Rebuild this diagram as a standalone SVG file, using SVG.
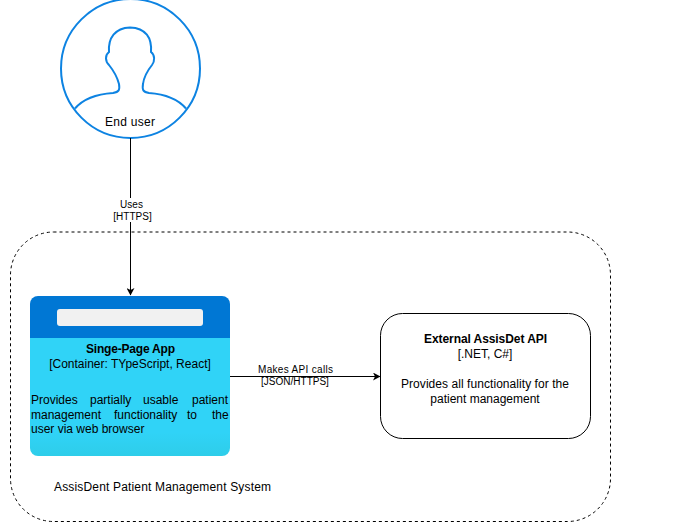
<svg xmlns="http://www.w3.org/2000/svg" width="673" height="529" viewBox="0 0 673 529">
<defs>
<style>
text{font-family:"Liberation Sans",Arial,sans-serif;font-size:12px;fill:#000}
.s{font-size:10px}
.m{text-anchor:middle}
.b{font-weight:bold}
.c{fill:none;stroke:#000;stroke-width:1}
.u{fill:none;stroke:#0d83e2;stroke-width:2}
</style>
<linearGradient id="g" x1="0" y1="0" x2="0" y2="1"><stop offset="0.8" stop-color="#30d3f7"/><stop offset="1" stop-color="#2ecde9"/></linearGradient>
<marker id="a" markerWidth="8" markerHeight="8" refX="7" refY="4" orient="auto" markerUnits="userSpaceOnUse"><path d="M0 0L7.500 4L0 8L2 4Z" fill="#000"/></marker>
</defs>
<rect id="boundary" x="10.500" y="232" width="600" height="289.500" rx="43" fill="none" stroke="#000" stroke-dasharray="3 3"/>
<g id="end-user">
<circle class="u" cx="130.500" cy="68.500" r="69.500" fill="#fff"/>
<path class="u" d="M75 108.500C84 98 98 94 113 93C119 92 120 90 119 84C117 76 113 70 109 65C105 61 105 55 109 52C108 38 115 28 130 27.500C146 28 152 38 151 52C155 55 155 61 152 65C148 70 144 76 143 84C142 90 143 92 149 93C163 94 177 98 186 108.500"/>
<text class="m" x="130" y="126" textLength="50">End user</text>
</g>
<g id="spa">
<path d="M30 338V304a8 8 0 0 1 8-8H222a8 8 0 0 1 8 8V338Z" fill="#0077d4"/>
<path d="M30 338H230V448a8 8 0 0 1-8 8H38a8 8 0 0 1-8-8Z" fill="url(#g)"/>
<rect x="57" y="309" width="146" height="17" rx="3" fill="#f1f1f1"/>
<text class="m b" x="130.500" y="353" textLength="89">Singe-Page App</text>
<text class="m" x="130" y="368">[Container: TYpeScript, React]</text>
<text y="404"><tspan x="31">Provides</tspan><tspan x="90">partially</tspan><tspan x="143">usable</tspan><tspan x="192">patient</tspan></text>
<text y="419"><tspan x="31">management</tspan><tspan x="114">functionality</tspan><tspan x="187">to</tspan><tspan x="212">the</tspan></text>
<text x="31" y="433">user via web browser</text>
</g>
<g id="api">
<rect x="380.500" y="313.500" width="210" height="125" rx="22" fill="#fff" stroke="#000"/>
<text class="m b" x="485.500" y="343" textLength="123">External AssisDet API</text>
<text class="m" x="485" y="358">[.NET, C#]</text>
<text class="m" x="485" y="388" textLength="168">Provides all functionality for the</text>
<text class="m" x="485" y="403">patient management</text>
</g>
<text id="system-label" x="54" y="491" textLength="217">AssisDent Patient Management System</text>
<g id="connectors">
<path class="c" d="M130.500 138L130.500 295" marker-end="url(#a)"/>
<path class="c" d="M230 376.500H380" marker-end="url(#a)"/>
<rect x="115" y="198" width="36" height="24" fill="#fff"/>
<text class="m s" x="131.500" y="208">Uses</text>
<text class="m s" x="132.500" y="220">[HTTPS]</text>
<text class="m s" x="295.500" y="373" textLength="75">Makes API calls</text>
<text class="m s" x="295" y="385">[JSON/HTTPS]</text>
</g>
</svg>
